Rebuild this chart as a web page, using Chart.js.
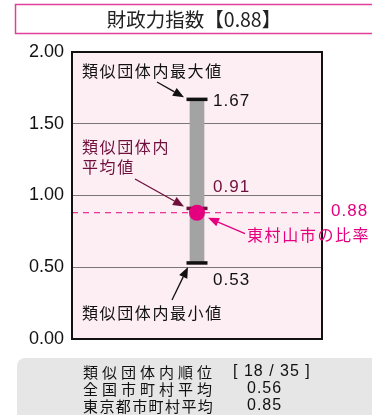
<!DOCTYPE html>
<html>
<head>
<meta charset="utf-8">
<script src="https://cdn.jsdelivr.net/npm/chart.js@4"></script>
<style>
  html, body { margin: 0; padding: 0; background: #fff; }
  #wrap { width: 372px; height: 415px; position: relative; }
</style>
</head>
<body>
<div id="wrap"><canvas id="ratioChart" width="372" height="415"></canvas></div>
<script>
// values
var categories = ["財政力指数"];
var groupMax = [1.67];
var groupMean = [0.91];
var groupMin = [0.53];
var cityValue = [0.88];
var yTicks = [0, 0.5, 1.0, 1.5, 2.0];
var rankText = "[ 18 / 35 ]";
var nationalAvg = "0.56";
var tokyoAvg = "0.85";

var PINK = "#e4007f";
var MAROON = "#6e0f3c";
var JP = "'Noto Sans CJK JP', sans-serif";
var NUM = "'Liberation Sans', Arial, sans-serif";

function spacedText(ctx, str, x, y, spacing) {
  ctx.letterSpacing = spacing + "px";
  ctx.fillText(str, x, y);
  ctx.letterSpacing = "0px";
}

function arrow(ctx, x1, y1, x2, y2, color) {
  var ang = Math.atan2(y2 - y1, x2 - x1);
  var len = 11, wid = 4.5;
  var bx = x2 - len * Math.cos(ang), by = y2 - len * Math.sin(ang);
  ctx.save();
  ctx.strokeStyle = color;
  ctx.fillStyle = color;
  ctx.lineWidth = 1.3;
  ctx.beginPath();
  ctx.moveTo(x1, y1);
  ctx.lineTo(bx, by);
  ctx.stroke();
  ctx.beginPath();
  ctx.moveTo(x2, y2);
  ctx.lineTo(bx + wid * Math.sin(ang), by - wid * Math.cos(ang));
  ctx.lineTo(bx - wid * Math.sin(ang), by + wid * Math.cos(ang));
  ctx.closePath();
  ctx.fill();
  ctx.restore();
}

var decor = {
  id: "decor",
  beforeDraw: function (chart) {
    var ctx = chart.ctx, a = chart.chartArea;
    ctx.save();
    ctx.fillStyle = "#fdeef3";
    ctx.fillRect(a.left, a.top, a.right - a.left, a.bottom - a.top);
    ctx.restore();
  },
  beforeDatasetsDraw: function (chart) {
    var ctx = chart.ctx, a = chart.chartArea, y = chart.scales.y;
    var yc = y.getPixelForValue(cityValue[0]);
    ctx.save();
    ctx.strokeStyle = PINK;
    ctx.lineWidth = 1;
    ctx.setLineDash([6, 5]);
    ctx.beginPath();
    ctx.moveTo(a.left, yc);
    ctx.lineTo(a.right, yc);
    ctx.stroke();
    ctx.restore();
  },
  afterDraw: function (chart) {
    var ctx = chart.ctx, a = chart.chartArea, y = chart.scales.y, x = chart.scales.x;
    var cx = x.getPixelForValue(0);
    var yMax = y.getPixelForValue(groupMax[0]);
    var yMean = y.getPixelForValue(groupMean[0]);
    var yMin = y.getPixelForValue(groupMin[0]);
    var yCity = y.getPixelForValue(cityValue[0]);
    ctx.save();

    // plot frame
    ctx.strokeStyle = "#111";
    ctx.lineWidth = 2;
    ctx.strokeRect(a.left, a.top, a.right - a.left, a.bottom - a.top);

    // title box
    ctx.strokeStyle = "#e0409a";
    ctx.lineWidth = 1.5;
    ctx.strokeRect(15.5, 4.5, 380, 29);
    ctx.fillStyle = "#222";
    ctx.font = "19.5px " + JP;
    ctx.textAlign = "center";
    ctx.textBaseline = "middle";
    ctx.fillText(categories[0] + "【" + cityValue[0].toFixed(2) + "】", 194, 20);

    // value labels
    ctx.textAlign = "left";
    ctx.font = "17px " + NUM;
    ctx.fillStyle = "#111";
    spacedText(ctx, groupMax[0].toFixed(2), cx + 16, yMax + 2, 1);
    spacedText(ctx, groupMin[0].toFixed(2), cx + 16, yMin + 17, 1);
    ctx.fillStyle = MAROON;
    spacedText(ctx, groupMean[0].toFixed(2), cx + 16, yMean - 21, 1);
    ctx.fillStyle = PINK;
    spacedText(ctx, cityValue[0].toFixed(2), a.right + 9, yCity - 1, 1);

    // annotations
    ctx.font = "16px " + JP;
    ctx.fillStyle = "#111";
    spacedText(ctx, "類似団体内最大値", 82, 71, 1.6);
    spacedText(ctx, "類似団体内最小値", 82, 313, 1.6);
    ctx.fillStyle = MAROON;
    spacedText(ctx, "類似団体内", 82, 147, 1.6);
    spacedText(ctx, "平均値", 82, 167, 1.6);
    ctx.fillStyle = PINK;
    spacedText(ctx, "東村山市の比率", 247, yCity + 22, 1.6);

    arrow(ctx, 157, 82, cx - 13, yMax - 2, "#111");
    arrow(ctx, 135, 179, cx - 13, yMean - 2, MAROON);
    arrow(ctx, 245, yCity + 21, cx + 11, yCity + 5, PINK);
    arrow(ctx, 172, 300, cx - 9, yMin + 4, "#111");

    // bottom info box
    ctx.fillStyle = "#e6e6e6";
    ctx.beginPath();
    ctx.roundRect(17, 358, 380, 80, 8);
    ctx.fill();
    ctx.fillStyle = "#111";
    ctx.font = "15px " + JP;
    ctx.textBaseline = "middle";
    spacedText(ctx, "類似団体内順位", 83, 372, 4);
    spacedText(ctx, "全国市町村平均", 83, 389, 4);
    spacedText(ctx, "東京都市町村平均", 83, 406, 1.4);
    ctx.font = "16px " + NUM;
    spacedText(ctx, rankText, 233, 372, 1);
    spacedText(ctx, nationalAvg, 247, 389, 1);
    spacedText(ctx, tokyoAvg, 247, 406, 1);
    ctx.restore();
  }
};

var ctx = document.getElementById("ratioChart").getContext("2d");

var ratioChart = new Chart(ctx, {
  type: "bar",
  data: {
    labels: categories,
    datasets: [
      {
        type: "line",
        label: "東村山市",
        data: cityValue,
        showLine: false,
        pointStyle: "circle",
        pointRadius: 8,
        backgroundColor: PINK,
        borderColor: PINK,
        borderWidth: 0,
        order: 1,
      },
      {
        type: "line",
        label: "最大値",
        data: groupMax,
        showLine: false,
        pointStyle: "line",
        pointRadius: 10.5,
        borderColor: "#111",
        borderWidth: 3.5,
        order: 2,
      },
      {
        type: "line",
        label: "平均値",
        data: groupMean,
        showLine: false,
        pointStyle: "line",
        pointRadius: 10.5,
        borderColor: MAROON,
        borderWidth: 3.5,
        order: 2,
      },
      {
        type: "line",
        label: "最小値",
        data: groupMin,
        showLine: false,
        pointStyle: "line",
        pointRadius: 10.5,
        borderColor: "#111",
        borderWidth: 3.5,
        order: 2,
      },
      {
        label: "範囲",
        data: groupMin.map(function (v, i) { return [v, groupMax[i]]; }),
        backgroundColor: "#a3a3a3",
        barThickness: 14,
        order: 5,
      },
    ],
  },
  options: {
    responsive: false,
    animation: false,
    events: [],
    layout: { padding: { left: 0, top: 52, right: 50, bottom: 76 } },
    plugins: {
      legend: { display: false },
      tooltip: { enabled: false },
    },
    scales: {
      x: { display: false },
      y: {
        min: 0,
        max: 2,
        afterFit: function (s) { s.width = 72; },
        afterBuildTicks: function (s) {
          s.ticks = yTicks.map(function (v) { return { value: v }; });
        },
        border: { display: false },
        grid: {
          color: "#777",
          lineWidth: 1,
          drawTicks: true,
          tickLength: 6,
          tickColor: "rgba(0,0,0,0)",
        },
        ticks: {
          color: "#111",
          padding: 2,
          font: { family: "'Liberation Sans', Arial, sans-serif", size: 18 },
          callback: function (v) { return v.toFixed(2); },
        },
      },
    },
  },
  plugins: [decor],
});
</script>
</body>
</html>
